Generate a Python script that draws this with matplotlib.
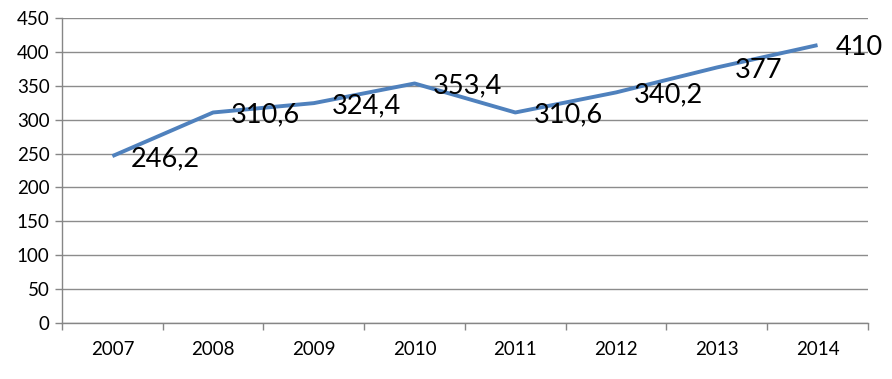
import matplotlib.pyplot as plt
import numpy as np

years = ['2007', '2008', '2009', '2010', '2011', '2012', '2013', '2014']
values = [246.2, 310.6, 324.4, 353.4, 310.6, 340.2, 377, 410]
labels = ['246,2', '310,6', '324,4', '353,4', '310,6', '340,2', '377', '410']

plt.rcParams['font.family'] = ['Lato', 'DejaVu Sans']

fig = plt.figure(figsize=(8.92, 3.79), dpi=100)
ax = fig.add_axes([0.0695, 0.1478, 0.9035, 0.8047])

x = np.arange(len(years))
ax.plot(x, values, color='#4F81BD', linewidth=2.8, solid_capstyle='butt', zorder=3)

for xi, v, lab in zip(x, values, labels):
    ax.annotate(lab, (xi, v), xytext=(13, -2), textcoords='offset points',
                ha='left', va='center', fontsize=19.5, color='black',
                annotation_clip=False, zorder=4)

ax.set_ylim(0, 450)
ax.set_yticks(range(0, 451, 50))
ax.set_xlim(-0.5, len(years) - 0.5)

# category boundaries get tick marks, labels sit on the centres
ax.set_xticks(np.arange(-0.5, len(years), 1.0))
ax.set_xticklabels([])
ax.set_xticks(x, minor=True)
ax.set_xticklabels(years, minor=True)
ax.tick_params(axis='x', which='major', length=5, color='#868686', width=1)
ax.tick_params(axis='x', which='minor', length=0, pad=13, labelsize=13.5)
ax.tick_params(axis='y', length=5, color='#868686', width=1, labelsize=13.5, pad=4)

ax.grid(axis='y', color='#8C8C8C', linewidth=1)
ax.set_axisbelow(True)
for side in ['top', 'right']:
    ax.spines[side].set_visible(False)
for side in ['left', 'bottom']:
    ax.spines[side].set_color('#868686')
    ax.spines[side].set_linewidth(1)

fig.savefig('out.png', dpi=100)
